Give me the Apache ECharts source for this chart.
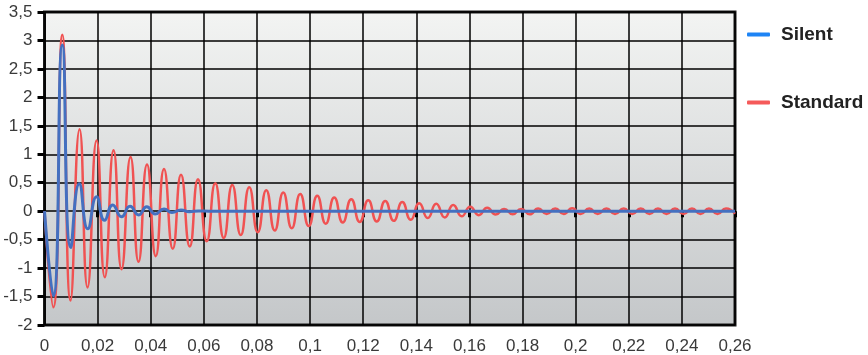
<!DOCTYPE html>
<html>
<head>
<meta charset="utf-8">
<script src="https://cdn.jsdelivr.net/npm/echarts@6/dist/echarts.min.js"></script>
<style>
  html, body { margin: 0; padding: 0; background: #fff; }
  #chart { width: 868px; height: 355px; }
</style>
</head>
<body>
<div id="chart"></div>
<script>
// x ticks / y ticks
const xTicks = { min: 0, max: 0.26, step: 0.02 }
const yTicks = { min: -2, max: 3.5, step: 0.5 }

// Silent: extrema [time, value]
const silentData = [
  [0, 0], [0.0033, -1.49], [0.0067, 2.92], [0.0099, -0.64], [0.0131, 0.48],
  [0.0163, -0.31], [0.0196, 0.255], [0.0226, -0.16], [0.0257, 0.11],
  [0.029, -0.10], [0.0322, 0.085], [0.0355, -0.065], [0.0385, 0.08],
  [0.0417, -0.05], [0.045, 0.04], [0.048, -0.025], [0.0514, 0.02],
  [0.0545, -0.01], [0.058, 0.005], [0.062, 0], [0.26, 0]
]

// Standard: extrema [time, value]
const standardData = [
  [0, 0], [0.0033, -1.69], [0.0067, 3.10], [0.0098, -1.57], [0.0132, 1.44],
  [0.0162, -1.34], [0.0196, 1.24], [0.0227, -1.16], [0.0260, 1.07],
  [0.0290, -1.02], [0.0324, 0.95], [0.0354, -0.89], [0.0386, 0.82],
  [0.0419, -0.79], [0.0450, 0.74], [0.0483, -0.66], [0.0514, 0.64],
  [0.0547, -0.62], [0.0578, 0.56], [0.0611, -0.53], [0.0643, 0.49],
  [0.0675, -0.47], [0.0707, 0.46], [0.0739, -0.42], [0.0771, 0.42],
  [0.0803, -0.37], [0.0835, 0.37], [0.0867, -0.34], [0.0899, 0.33],
  [0.0931, -0.30], [0.0963, 0.30], [0.0995, -0.26], [0.1027, 0.27],
  [0.1059, -0.22], [0.1091, 0.24], [0.1123, -0.20], [0.1155, 0.21],
  [0.1187, -0.19], [0.1219, 0.19], [0.1251, -0.18], [0.1283, 0.18],
  [0.1315, -0.17], [0.1347, 0.16], [0.1379, -0.15], [0.1411, 0.14],
  [0.1443, -0.12], [0.1475, 0.13], [0.1507, -0.11], [0.1539, 0.11],
  [0.1571, -0.09], [0.1603, 0.08], [0.1635, -0.07], [0.1667, 0.06],
  [0.1699, -0.06], [0.1731, 0.04], [0.1763, -0.055], [0.1795, 0.04],
  [0.1827, -0.055], [0.1859, 0.045], [0.1891, -0.05], [0.1923, 0.045],
  [0.1955, -0.05], [0.1987, 0.05], [0.2019, -0.05], [0.2051, 0.045],
  [0.2083, -0.05], [0.2116, 0.045], [0.2148, -0.05], [0.2181, 0.045],
  [0.2213, -0.05], [0.2245, 0.045], [0.2278, -0.05], [0.2310, 0.045],
  [0.2342, -0.05], [0.2374, 0.045], [0.2406, -0.05], [0.2438, 0.045],
  [0.2470, -0.05], [0.2502, 0.045], [0.2534, -0.05], [0.2566, 0.045],
  [0.26, -0.045]
]

const seriesNames = ['Silent', 'Standard']

// 小数点用逗号
const fmt = (v) => String(+v.toFixed(2)).replace('.', ',')

const chart = echarts.init(document.getElementById('chart'))

const option = {
  animation: false,
  legend: {
    orient: 'vertical',
    left: 742,
    top: 20,
    itemGap: 49,
    icon: 'roundRect',
    itemWidth: 23,
    itemHeight: 4,
    textStyle: {
      fontFamily: 'Liberation Sans, Arial, sans-serif',
      fontSize: 19,
      fontWeight: 'bold',
      color: '#222',
      padding: [0, 0, 0, 6]
    },
    data: [
      { name: seriesNames[0], itemStyle: { color: '#1e84f5' } },
      { name: seriesNames[1], itemStyle: { color: '#f55a5a' } }
    ]
  },
  grid: {
    left: 44.5,
    right: 133,
    top: 12,
    bottom: 30,
    show: true,
    borderColor: '#1a1a1a',
    borderWidth: 3,
    backgroundColor: new echarts.graphic.LinearGradient(0, 0, 0, 1, [
      { offset: 0, color: '#f3f4f3' },
      { offset: 1, color: '#c4c7c9' }
    ])
  },
  xAxis: {
    type: 'value',
    min: xTicks.min,
    max: xTicks.max,
    interval: xTicks.step,
    offset: 4,
    axisLine: { show: false },
    axisTick: { show: true, length: 6, lineStyle: { color: '#000', width: 3 } },
    axisLabel: {
      margin: 9,
      fontFamily: 'Liberation Sans, Arial, sans-serif',
      fontSize: 17,
      color: '#3a3a3a',
      formatter: fmt
    },
    splitLine: { show: true, lineStyle: { color: '#000', width: 1.5 } }
  },
  yAxis: {
    type: 'value',
    min: yTicks.min,
    max: yTicks.max,
    interval: yTicks.step,
    offset: 2,
    axisLine: { show: false },
    axisTick: { show: true, length: 7, lineStyle: { color: '#000', width: 3 } },
    axisLabel: {
      margin: 10,
      fontFamily: 'Liberation Sans, Arial, sans-serif',
      fontSize: 17,
      color: '#3a3a3a',
      formatter: fmt
    },
    splitLine: { show: true, lineStyle: { color: '#000', width: 1.5 } }
  },
  series: [
    {
      name: seriesNames[0],
      type: 'line',
      data: silentData,
      smooth: 0.55,
      showSymbol: false,
      z: 4,
      itemStyle: { color: '#1e84f5' },
      lineStyle: { color: '#4470c0', width: 3 }
    },
    {
      name: seriesNames[1],
      type: 'line',
      data: standardData,
      smooth: 0.55,
      showSymbol: false,
      z: 3,
      itemStyle: { color: '#f55a5a' },
      lineStyle: { color: '#f05252', width: 2.5 }
    }
  ]
}

chart.setOption(option)
window.addEventListener('resize', () => chart.resize())
</script>
</body>
</html>
